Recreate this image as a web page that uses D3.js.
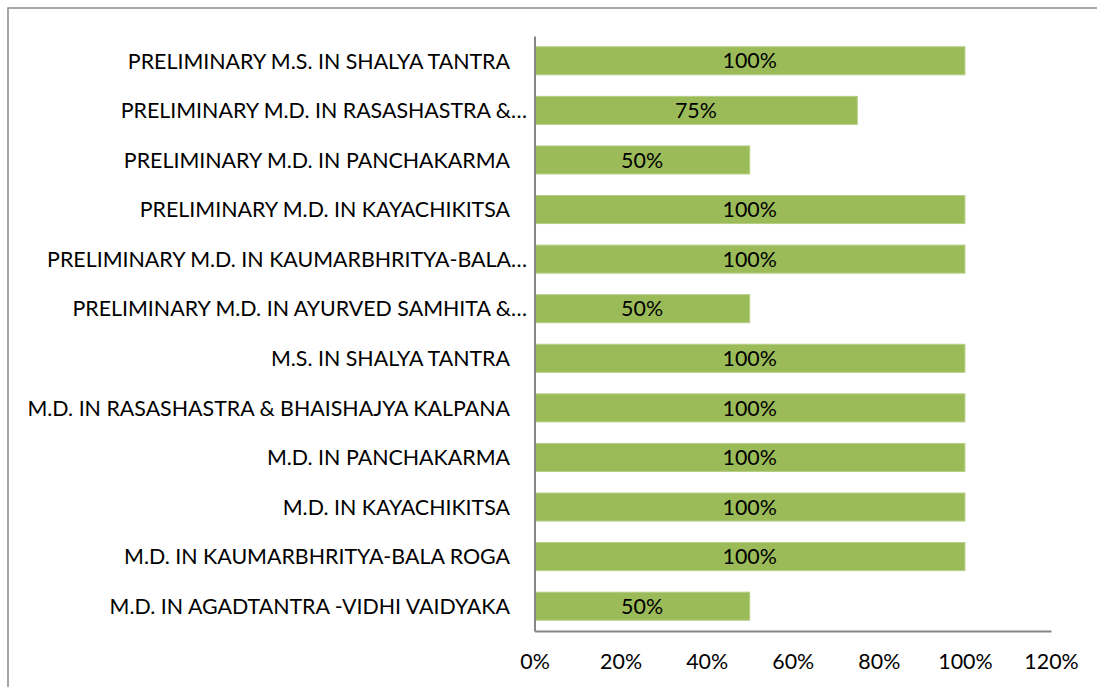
<!DOCTYPE html>
<html>
<head>
<meta charset="utf-8">
<script src="https://cdn.jsdelivr.net/npm/d3@7/dist/d3.min.js"></script>
<style>
  html, body { margin: 0; padding: 0; background: #fff; }
  svg { display: block; }
  text { font-family: Lato, "Open Sans", sans-serif; fill: #000; }
</style>
</head>
<body>
<svg id="chart" width="1097" height="687"></svg>
<script>
const categories = [
  "PRELIMINARY M.S. IN SHALYA TANTRA",
  "PRELIMINARY M.D. IN RASASHASTRA &…",
  "PRELIMINARY M.D. IN PANCHAKARMA",
  "PRELIMINARY M.D. IN KAYACHIKITSA",
  "PRELIMINARY M.D. IN KAUMARBHRITYA-BALA…",
  "PRELIMINARY M.D. IN AYURVED SAMHITA &…",
  "M.S. IN SHALYA TANTRA",
  "M.D. IN RASASHASTRA & BHAISHAJYA KALPANA",
  "M.D. IN PANCHAKARMA",
  "M.D. IN KAYACHIKITSA",
  "M.D. IN KAUMARBHRITYA-BALA ROGA",
  "M.D. IN AGADTANTRA -VIDHI VAIDYAKA"
];
const values = [1.00, 0.75, 0.50, 1.00, 1.00, 0.50, 1.00, 1.00, 1.00, 1.00, 1.00, 0.50];
const tickValues = [0, 0.2, 0.4, 0.6, 0.8, 1.0, 1.2];

const svg = d3.select("#chart");
const fontSize = 21.4;

// outer chart border
svg.append("rect")
  .attr("x", 8).attr("y", 8)
  .attr("width", 1200).attr("height", 800)
  .attr("fill", "none")
  .attr("stroke", "#8a8a8a")
  .attr("stroke-width", 1.5);

const x = d3.scaleLinear().domain([0, 1.2]).range([534.5, 1051]);
const y = d3.scaleBand().domain(categories).range([36, 631]).paddingInner(0.435).paddingOuter(0.2175);

// bars
svg.append("g").selectAll("rect")
  .data(categories)
  .join("rect")
  .attr("x", x(0))
  .attr("y", d => y(d))
  .attr("width", (d, i) => x(values[i]) - x(0))
  .attr("height", y.bandwidth())
  .attr("fill", "#9bbb59")
  .attr("stroke", "#b5cd84")
  .attr("stroke-width", 1);

// value labels
svg.append("g").selectAll("text")
  .data(categories)
  .join("text")
  .attr("x", (d, i) => (x(0) + x(values[i])) / 2)
  .attr("y", d => y(d) + y.bandwidth() / 2)
  .attr("dy", "0.36em")
  .attr("text-anchor", "middle")
  .style("font-size", fontSize + "px")
  .text((d, i) => d3.format(".0%")(values[i]));

// category axis
const yAxis = d3.axisLeft(y).tickSize(0).tickPadding(0);
const gy = svg.append("g").attr("transform", `translate(${x(0)},0)`).call(yAxis);
gy.select(".domain").attr("stroke", "#868686").attr("stroke-width", 2);
gy.selectAll(".tick text")
  .attr("x", d => d.endsWith("…") ? -7.5 : -24.5)
  .attr("dy", "0.36em")
  .style("font-size", fontSize + "px")
  .style("font-family", "Lato, 'Open Sans', sans-serif")
  .attr("fill", "#000");

// value axis
const xAxis = d3.axisBottom(x).tickValues(tickValues).tickFormat(d3.format(".0%")).tickSize(0).tickPadding(23);
const gx = svg.append("g").attr("transform", `translate(0,631)`).call(xAxis);
gx.select(".domain").attr("stroke", "#868686").attr("stroke-width", 2);
gx.selectAll(".tick text")
  .style("font-size", fontSize + "px")
  .style("font-family", "Lato, 'Open Sans', sans-serif")
  .attr("fill", "#000");
</script>
</body>
</html>
